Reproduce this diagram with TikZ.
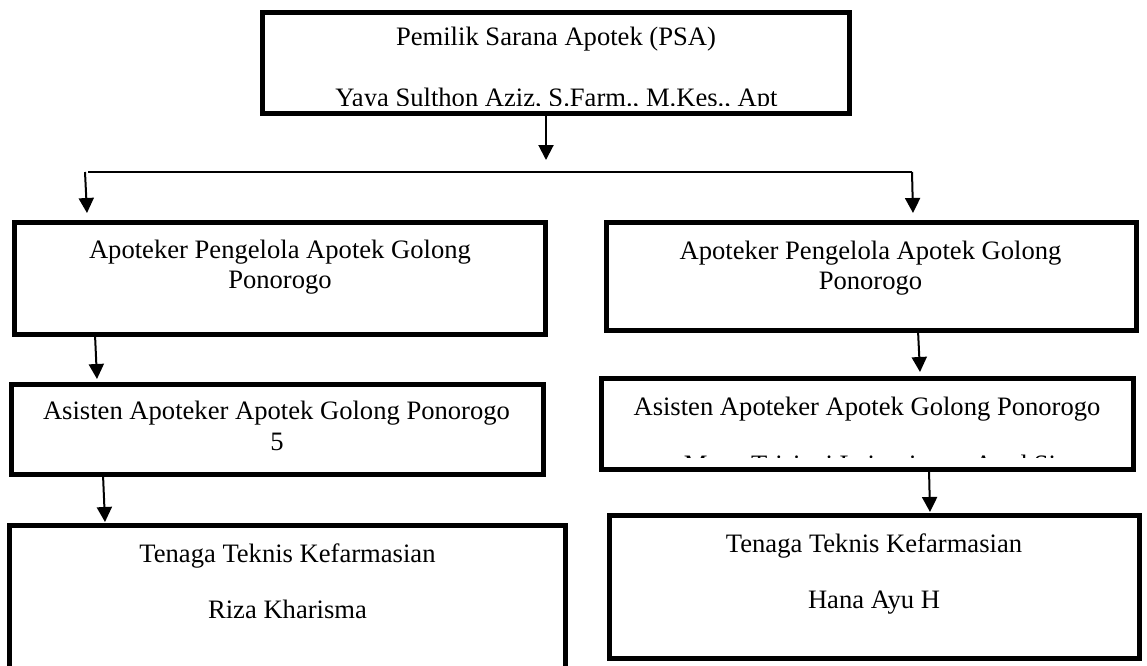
\documentclass[tikz,border=0pt]{standalone}
\usepackage{fontspec}
\setmainfont{Liberation Serif}
\usetikzlibrary{arrows.meta}
\begin{document}
\begin{tikzpicture}[x=1pt,y=-1pt,
  box/.style={draw=black, line width=5pt, fill=white, outer sep=0pt, inner sep=0pt, rectangle},
  txt/.style={anchor=base, inner sep=0pt, outer sep=0pt, font=\fontsize{26.6}{30.5}\selectfont},
  conn/.style={line width=1.8pt},
  arr/.style={line width=2pt, -{Triangle[length=15pt,width=15pt]}}
]
\useasboundingbox (0,0) rectangle (1147,665);
\fill[white] (0,0) rectangle (1147,665);

% boxes
\node[box, minimum width=587pt, minimum height=101pt] (top) at (556,63) {};
\node[box, minimum width=530.5pt, minimum height=112pt] (L1) at (279.75,278.5) {};
\node[box, minimum width=530.5pt, minimum height=108pt] (R1) at (871.25,276.5) {};
\node[box, minimum width=531.5pt, minimum height=90pt] (L2) at (277.25,429.5) {};
\node[box, minimum width=532pt, minimum height=91pt] (R2) at (867.5,424) {};
\node[box, minimum width=555.5pt, minimum height=174.5pt] (L3) at (287.25,612.75) {};
\node[box, minimum width=530pt, minimum height=142.5pt] (R3) at (874.5,586.75) {};

% texts
\node[txt] (topa) at (556,45) {Pemilik Sarana Apotek (PSA)};
\begin{scope}
  \clip (262.5,14) rectangle (849.5,105.5);
  \node[txt] (topb) at (556.5,106.5) {Yaya Sulthon Aziz, S.Farm., M.Kes., Apt};
\end{scope}

\node[txt] (L1a) at (280,258) {Apoteker Pengelola Apotek Golong};
\node[txt] (L1b) at (280,288) {Ponorogo};
\node[txt] (R1a) at (870.5,259) {Apoteker Pengelola Apotek Golong};
\node[txt] (R1b) at (870.5,289) {Ponorogo};

\node[txt] (L2a) at (276.5,419) {Asisten Apoteker Apotek Golong Ponorogo};
\node[txt] (L2b) at (277,450) {5};
\node[txt] (R2a) at (867,415) {Asisten Apoteker Apotek Golong Ponorogo};
\begin{scope}
  \clip (601.5,381) rectangle (1133.5,457.5);
  \node[txt] (R2b) at (870,473) {Mega Trisiani Lairaniwan, Amd.Si};
\end{scope}

\node[txt] (L3a) at (287.5,562) {Tenaga Teknis Kefarmasian};
\node[txt] (L3b) at (287.5,618) {Riza Kharisma};
\node[txt] (R3a) at (874,552) {Tenaga Teknis Kefarmasian};
\node[txt] (R3b) at (874,608) {Hana Ayu H};

% connector points
\coordinate (t0) at (546,160);
\coordinate (hL) at (88,172);
\coordinate (hR) at (912,172);
\coordinate (tR) at (913,213);
\coordinate (sL) at (85,172);
\coordinate (tL) at (87,213);
\coordinate (t1) at (97,379);
\coordinate (t2) at (105,522);
\coordinate (t3) at (920,372);
\coordinate (t4) at (930,512);

% connectors
\draw[arr] ([xshift=-10pt]top.south) -- (t0);
\draw[conn] (hL) -- (hR);
\draw[arr] (hR) -- (tR);
\draw[arr] (sL) -- (tL);
\draw[arr] ([xshift=80.5pt]L1.south west) -- (t1);
\draw[arr] ([xshift=91.5pt]L2.south west) -- (t2);
\draw[arr] ([xshift=312pt]R1.south west) -- (t3);
\draw[arr] ([xshift=327.5pt]R2.south west) -- (t4);
\end{tikzpicture}
\end{document}
